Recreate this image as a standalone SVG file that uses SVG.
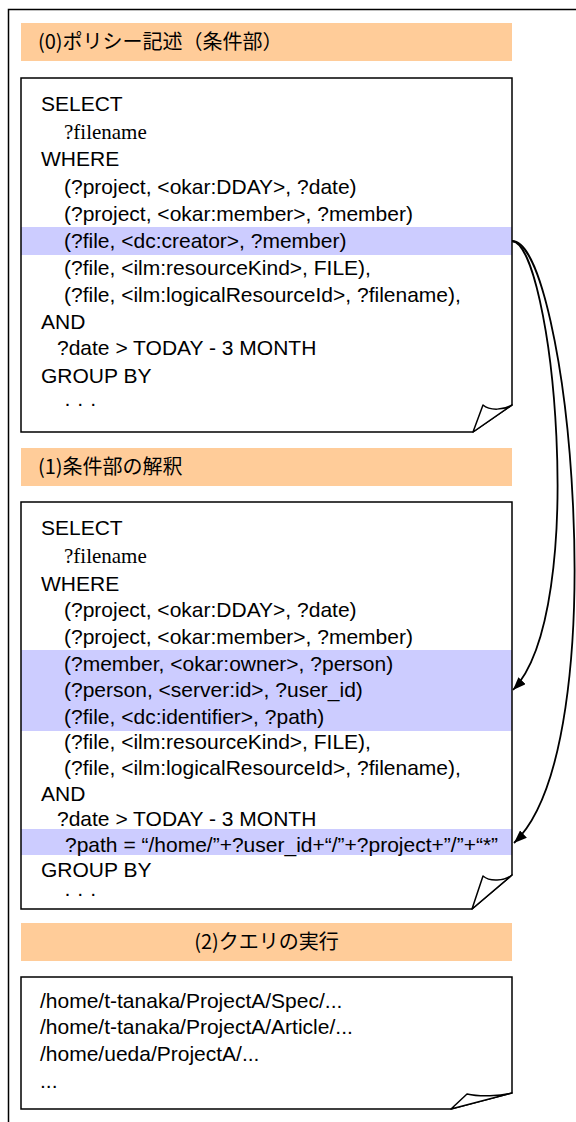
<svg xmlns="http://www.w3.org/2000/svg" width="576" height="1122" viewBox="0 0 576 1122">
<defs>
<style>
.frame{fill:none;stroke:#000;stroke-width:1.5}
.hdr{fill:#FFCC99}
.ht{font-family:"Noto Sans CJK JP","Noto Sans",sans-serif;font-size:20px;fill:#000}
.bg{fill:#fff}
.hl{fill:#CCCCFF}
.ol{fill:none;stroke:#000;stroke-width:1.5;stroke-linejoin:miter}
.flap{fill:#fff;stroke:#000;stroke-width:1.5;stroke-linejoin:round}
.t{font-family:"Liberation Sans",Arial,sans-serif;font-size:21px;fill:#000}
.s{font-family:"Liberation Serif","Times New Roman",serif;font-size:21px;fill:#000}
.con{fill:none;stroke:#000;stroke-width:1.8}
</style>
<marker id="ah" markerUnits="userSpaceOnUse" markerWidth="14" markerHeight="10" refX="13" refY="5" orient="auto">
<path d="M0,0 L13,5 L0,10 z" fill="#000"/>
</marker>
</defs>
<rect class="frame" x="8.5" y="9.5" width="620" height="1200"/>

<g id="header0">
<rect class="hdr" x="21" y="23" width="491" height="38"/>
<text class="ht" x="38" y="49">(0)ポリシー記述（条件部）</text>
</g>

<g id="note0">
<path class="bg" d="M21,78 H512 V405 L473,432 H21 Z"/>
<rect class="hl" x="21" y="227" width="491" height="28"/>
<text class="t" x="41" y="111">SELECT</text>
<text class="s" x="64" y="138.5">?filename</text>
<text class="t" x="41" y="166">WHERE</text>
<text class="t" x="64" y="194">(?project, &lt;okar:DDAY&gt;, ?date)</text>
<text class="t" x="64" y="220.5">(?project, &lt;okar:member&gt;, ?member)</text>
<text class="t" x="64" y="247.5">(?file, &lt;dc:creator&gt;, ?member)</text>
<text class="t" x="64" y="274.5">(?file, &lt;ilm:resourceKind&gt;, FILE),</text>
<text class="t" x="64" y="301.5">(?file, &lt;ilm:logicalResourceId&gt;, ?filename),</text>
<text class="t" x="41" y="328.5">AND</text>
<text class="t" x="57" y="355">?date &gt; TODAY - 3 MONTH</text>
<text class="t" x="41" y="382.5">GROUP BY</text>
<text class="t" x="64" y="410">· · ·</text>
<path class="ol" d="M21,78 H512 V405 L473,432 H21 Z"/>
<path class="flap" d="M473,432 L483,405 C490,411 504,410 512,405 Z"/>
</g>

<g id="header1">
<rect class="hdr" x="21" y="448" width="491" height="38"/>
<text class="ht" x="38" y="474">(1)条件部の解釈</text>
</g>

<g id="note1">
<path class="bg" d="M21,502 H512 V875 L472,909 H21 Z"/>
<rect class="hl" x="21" y="650" width="491" height="81"/>
<rect class="hl" x="21" y="829" width="491" height="26"/>
<text class="t" x="41" y="534.5">SELECT</text>
<text class="s" x="64" y="562.5">?filename</text>
<text class="t" x="41" y="590.5">WHERE</text>
<text class="t" x="64" y="616.5">(?project, &lt;okar:DDAY&gt;, ?date)</text>
<text class="t" x="64" y="643.5">(?project, &lt;okar:member&gt;, ?member)</text>
<text class="t" x="64" y="670.5">(?member, &lt;okar:owner&gt;, ?person)</text>
<text class="t" x="64" y="696.5">(?person, &lt;server:id&gt;, ?user_id)</text>
<text class="t" x="64" y="723.5">(?file, &lt;dc:identifier&gt;, ?path)</text>
<text class="t" x="64" y="748.5">(?file, &lt;ilm:resourceKind&gt;, FILE),</text>
<text class="t" x="64" y="774.5">(?file, &lt;ilm:logicalResourceId&gt;, ?filename),</text>
<text class="t" x="41" y="800.5">AND</text>
<text class="t" x="57" y="825.5">?date &gt; TODAY - 3 MONTH</text>
<text class="t" x="65" y="852">?path = “/home/”+?user_id+“/”+?project+”/”+“*”</text>
<text class="t" x="41" y="876.5">GROUP BY</text>
<text class="t" x="64" y="900">· · ·</text>
<path class="ol" d="M21,502 H512 V875 L472,909 H21 Z"/>
<path class="flap" d="M472,909 L483,876 C490,882 504,881 512,875 Z"/>
</g>

<g id="header2">
<rect class="hdr" x="21" y="923" width="491" height="38"/>
<text class="ht" x="266.5" y="949" text-anchor="middle">(2)クエリの実行</text>
</g>

<g id="note2">
<path class="bg" d="M21,977 H512 V1093 L451,1109 H21 Z"/>
<text class="t" x="40" y="1007.5">/home/t-tanaka/ProjectA/Spec/...</text>
<text class="t" x="40" y="1033.5">/home/t-tanaka/ProjectA/Article/...</text>
<text class="t" x="40" y="1060.5">/home/ueda/ProjectA/...</text>
<text class="t" x="40" y="1087.5">...</text>
<path class="ol" d="M21,977 H512 V1093 L451,1109 H21 Z"/>
<path class="flap" d="M451,1109 L467,1094 C480,1097 500,1096 512,1093 Z"/>
</g>

<g id="connectors">
<path class="con" d="M512,241 C552,243 590,610 513,690" marker-end="url(#ah)"/>
<path class="con" d="M512,241 C568,241 618,745 514,843" marker-end="url(#ah)"/>
</g>
</svg>
